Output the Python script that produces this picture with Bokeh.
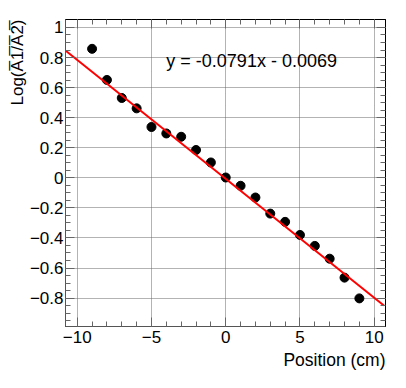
from bokeh.plotting import figure
from bokeh.models import LinearAxis, FixedTicker, Range1d, Label, Title, ColumnDataSource
from bokeh.embed import file_html
from bokeh.resources import INLINE

# data
positions = [-9, -8, -7, -6, -5, -4, -3, -2, -1, 0, 1, 2, 3, 4, 5, 6, 7, 8, 9]
log_ratio = [0.858, 0.651, 0.531, 0.462, 0.338, 0.295, 0.273, 0.185, 0.102, 0.002,
             -0.053, -0.131, -0.238, -0.293, -0.380, -0.453, -0.538, -0.664, -0.802]
slope = -0.0791
intercept = -0.0069
fit_x = [-10.75, 10.65]
fit_y = [slope * x + intercept for x in fit_x]

x_ticks = [-10, -5, 0, 5, 10]
x_tick_labels = ["\u221210", "\u22125", "0", "5", "10"]
x_minor = [v for v in range(-10, 11)]
y_ticks = [-0.8, -0.6, -0.4, -0.2, 0.0, 0.2, 0.4, 0.6, 0.8, 1.0]
y_tick_labels = ["\u22120.8", "\u22120.6", "\u22120.4", "\u22120.2", "0", "0.2", "0.4", "0.6", "0.8", "1"]
y_minor = [round(-0.95 + 0.05 * i, 2) for i in range(40)]

x_title = "Position (cm)"
y_title = "Log(A\u03051\u0305/A\u03052\u0305)"
eq_text = "y = -0.0791x - 0.0069"

FONT = "Liberation Sans"

p = figure(width=390, height=372, output_backend="svg", toolbar_location=None,
           x_range=Range1d(-10.79, 10.76), y_range=Range1d(-0.989, 1.053),
           min_border_left=65, min_border_top=19, min_border_right=5, min_border_bottom=46,
           x_axis_location=None, y_axis_location=None)
p.outline_line_color = "black"
p.outline_line_width = 1
p.background_fill_color = "white"
p.border_fill_color = "white"

xt = FixedTicker(ticks=x_ticks, minor_ticks=x_minor)
yt = FixedTicker(ticks=y_ticks, minor_ticks=y_minor)

def style(ax):
    ax.major_tick_in = 9
    ax.major_tick_out = 0
    ax.minor_tick_in = 5
    ax.minor_tick_out = 0
    ax.major_tick_line_color = "#666666"
    ax.minor_tick_line_color = "#666666"
    ax.axis_line_color = "#555555"
    ax.major_label_text_font = FONT
    ax.major_label_text_color = "black"
    ax.major_label_text_font_size = "17px"

xb = LinearAxis(ticker=xt, major_label_overrides=dict(zip(x_ticks, x_tick_labels)))
style(xb)
xb.major_label_standoff = 4
p.add_layout(xb, "below")

yl = LinearAxis(ticker=yt, major_label_overrides=dict(zip(y_ticks, y_tick_labels)))
style(yl)
yl.major_label_standoff = 2
p.add_layout(yl, "left")

xa = LinearAxis(ticker=xt, major_label_overrides={t: "" for t in x_ticks})
style(xa)
xa.major_label_standoff = 0
xa.axis_line_color = "black"
p.add_layout(xa, "above")

yr = LinearAxis(ticker=yt, major_label_overrides={t: "" for t in y_ticks})
style(yr)
yr.major_label_standoff = 0
yr.axis_line_color = "black"
p.add_layout(yr, "right")

p.xgrid.ticker = xt
p.ygrid.ticker = yt
for g in (p.xgrid, p.ygrid):
    g.grid_line_color = "#666666"
    g.grid_line_dash = "1 1"
    g.grid_line_width = 1

src = ColumnDataSource(dict(x=positions, y=log_ratio))
p.scatter("x", "y", source=src, size=9, color="black")
p.line(fit_x, fit_y, line_color="red", line_width=2)

p.add_layout(Label(x=-4.0, y=0.78, text=eq_text, text_font=FONT, text_font_size="18px",
                   text_baseline="middle", text_align="left", text_color="black"))

# axis titles (ROOT style: aligned to the end of the axis)
p.add_layout(Title(text=x_title, align="right", text_font=FONT, text_font_size="17.5px",
                   text_font_style="normal", text_color="black", standoff=5), "below")
p.add_layout(Title(text=y_title, align="right", text_font=FONT, text_font_size="17px",
                   text_font_style="normal", text_color="black", standoff=0), "left")

open("out.html", "w").write(file_html(p, INLINE))
